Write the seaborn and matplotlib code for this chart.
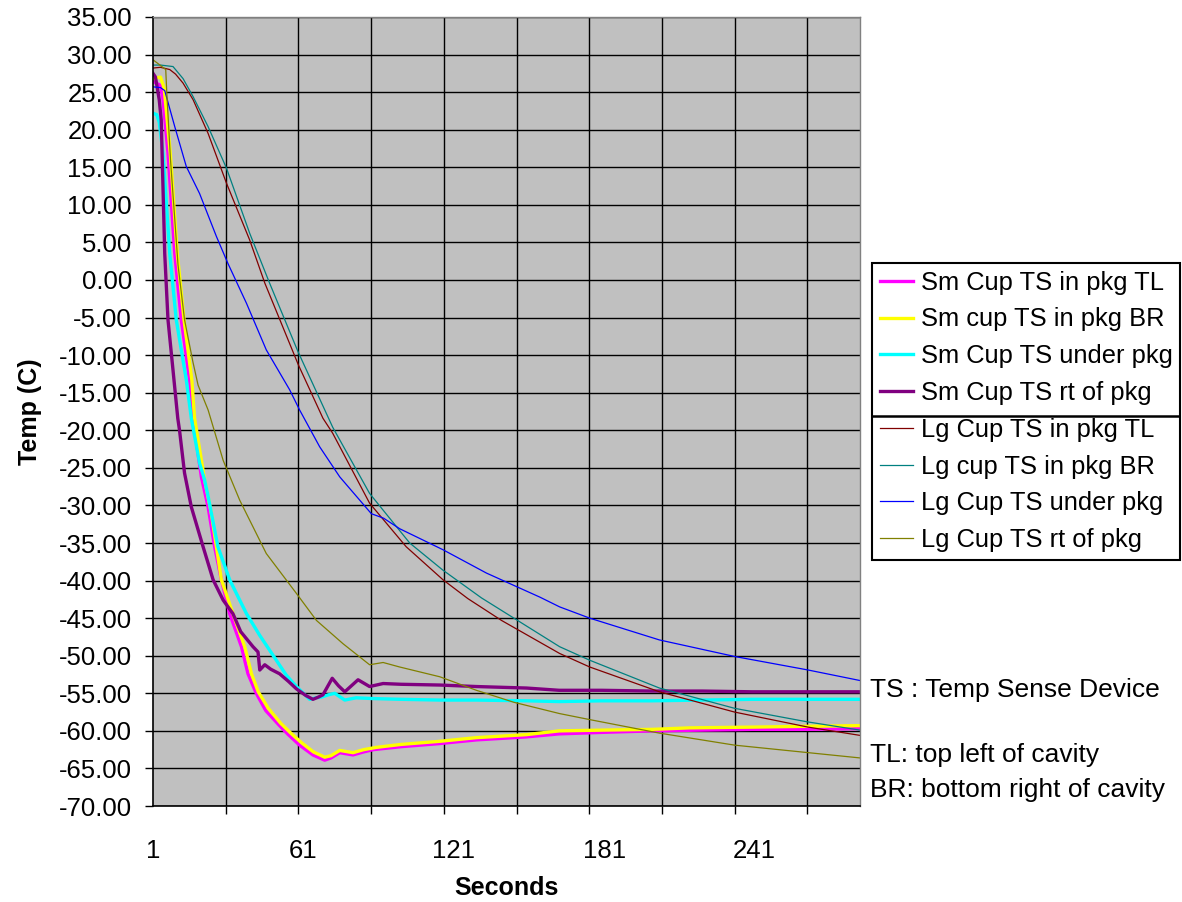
import matplotlib
matplotlib.use("Agg")
import matplotlib.pyplot as plt
from matplotlib.lines import Line2D
from matplotlib.ticker import FormatStrFormatter, FixedLocator
import seaborn as sns
import pandas as pd

# ---- data (seconds, temperature in C) ----
sm_tl_t = [1, 4, 5, 7, 9.7, 12.3, 15.6, 17, 20.3, 23, 25.6, 28.3, 31.6, 36.3, 38.9, 42.2, 46, 51.5, 55,
           59.5, 64.8, 69.5, 72, 75.5, 80.8, 85, 88.8, 100, 115, 130, 150, 163, 180, 200, 220, 240, 260, 283]
sm_tl_y = [26.4, 25.9, 24.0, 16.9, 3.5, -5.3, -13.3, -18.4, -26.2, -30.2, -35.5, -39.9, -44.4, -48.8, -52.4, -55.0,
           -57.3, -59.3, -60.5, -61.9, -63.2, -63.9, -63.6, -62.9, -63.2, -62.8, -62.5, -62.1, -61.7, -61.2,
           -60.8, -60.4, -60.2, -60.0, -59.9, -59.8, -59.8, -59.7]

sm_br_t = [1, 4, 5.5, 7.9, 10.7, 13.4, 16.5, 17.6, 21.6, 24.3, 26.3, 28.3, 32.9, 37.6, 40.3, 43, 47, 52, 56,
           60, 65, 69.5, 72, 75.5, 80.8, 85, 90, 100, 115, 130, 150, 163, 180, 200, 215, 240, 260, 283]
sm_br_y = [26.8, 27.0, 25.5, 16.9, 3.5, -5.3, -13.3, -18.4, -26.6, -31.1, -35.5, -39.9, -44.4, -48.8, -52.4,
           -54.8, -57.0, -59.0, -60.3, -61.5, -62.8, -63.5, -63.3, -62.6, -62.9, -62.5, -62.2, -61.8, -61.4,
           -60.9, -60.5, -60.0, -59.9, -59.8, -59.6, -59.5, -59.4, -59.3]

sm_under_t = [1, 2.5, 3.5, 5.0, 7.7, 10.3, 14.3, 16.3, 19.6, 21.6, 23, 26.9, 31.6, 35.6, 38.3, 43.6,
              50.2, 54.2, 58.2, 63.5, 66, 68.2, 71, 73.5, 77.5, 82, 88.8, 100, 115.4, 130, 150, 163, 180,
              200, 220, 240, 260, 283]
sm_under_y = [22.2, 22.0, 21.0, 16.9, 3.5, -5.3, -13.3, -18.4, -24.4, -26.6, -28.8, -35.5, -39.9, -42.6,
              -44.4, -47.3, -50.6, -52.6, -54.1, -55.8, -55.6, -55.5, -55.2, -55.0, -55.9, -55.6,
              -55.7, -55.8, -55.9, -55.9, -56.0, -56.1, -56.0, -56.0, -55.9, -55.8, -55.8, -55.8]

sm_rt_t = [1, 2, 3.5, 4.3, 5, 5.7, 7, 9, 10.9, 11.6, 13.6, 16.3, 21, 25, 29, 32.9, 36, 40.9, 42.9, 43.6,
           45.6, 48, 51.5, 55, 58.2, 62, 64.8, 67, 68.8, 72.5, 75, 77.5, 82.8, 87.4, 92.8, 100, 115.4, 130,
           150, 163, 180, 200, 220, 240, 260, 283]
sm_rt_y = [27.5, 27.0, 24.0, 21.3, 12.4, 3.5, -5.3, -12.0, -18.4, -20.0, -25.7, -30.2, -35.5, -39.9, -42.6,
           -44.4, -46.8, -48.8, -49.5, -51.9, -51.2, -51.8, -52.4, -53.4, -54.4, -55.3, -55.8, -55.5, -55.2,
           -53.0, -54.0, -54.8, -53.2, -54.1, -53.7, -53.8, -53.9, -54.1, -54.3, -54.6, -54.6, -54.7, -54.7,
           -54.8, -54.8, -54.8]

lg_tl_t = [1, 4, 7.7, 10, 13, 17, 23, 30.3, 39.6, 45.6, 59, 68.8, 72.7, 87.4, 102, 116.7, 126.6, 140,
           163.2, 175.2, 203, 233, 262.3, 283]
lg_tl_y = [28.2, 28.3, 28.0, 27.4, 26.2, 24.0, 19.5, 12.9, 5.3, -0.4, -11.3, -18.4, -20.4, -29.7, -35.5,
           -39.9, -42.4, -45.3, -49.7, -51.5, -54.8, -57.5, -59.5, -60.6]

lg_br_t = [1, 4, 9, 13, 17, 23, 30.3, 39.6, 47.5, 58.8, 72.7, 87.4, 103.4, 116.6, 132, 163.2, 175.2,
           203, 233, 262, 283]
lg_br_y = [28.6, 28.6, 28.4, 26.8, 24.4, 20.4, 14.9, 6.2, -0.4, -9.5, -19.6, -28.4, -35.0, -38.6, -42.3,
           -48.8, -50.6, -54.3, -57.0, -58.8, -59.9]

lg_under_t = [1, 4, 5.7, 9.7, 14.3, 19.6, 26.3, 30.9, 38.3, 46.2, 55.5, 59.5, 67.5, 75.5, 88.1, 93, 99.4,
              116.7, 134, 155.3, 163.2, 175.2, 203, 233, 262.3, 283]
lg_under_y = [25.7, 25.6, 25.2, 20.4, 15.1, 11.5, 5.8, 2.2, -3.1, -9.3, -14.6, -17.3, -22.2, -26.2, -31.1,
              -31.7, -33.1, -35.9, -39.0, -42.2, -43.5, -45.0, -47.9, -50.1, -51.9, -53.3]

lg_rt_t = [1, 3, 6.1, 6.5, 8, 11, 13.6, 17, 19, 23, 29, 35.6, 46.2, 58.2, 66.2, 76.8, 87.4, 92.8, 99.4,
           115.4, 130, 145, 163.2, 175.2, 203, 233, 283]
lg_rt_y = [29.3, 28.8, 28.0, 25.0, 16.0, 2.0, -5.3, -11.0, -14.0, -17.3, -24.0, -29.3, -36.4, -41.7, -45.3,
           -48.4, -51.2, -50.9, -51.5, -52.8, -54.6, -56.2, -57.7, -58.5, -60.3, -61.9, -63.6]

series_names = ["Sm Cup TS in pkg TL", "Sm cup TS in pkg BR", "Sm Cup TS under pkg", "Sm Cup TS rt of pkg",
                "Lg Cup TS in pkg TL", "Lg cup TS in pkg BR", "Lg Cup TS under pkg", "Lg Cup TS rt of pkg"]
series_t = [sm_tl_t, sm_br_t, sm_under_t, sm_rt_t, lg_tl_t, lg_br_t, lg_under_t, lg_rt_t]
series_y = [sm_tl_y, sm_br_y, sm_under_y, sm_rt_y, lg_tl_y, lg_br_y, lg_under_y, lg_rt_y]
series_colors = ["#FF00FF", "#FFFF00", "#00FFFF", "#800080", "#800000", "#008080", "#0000FF", "#808000"]
series_widths = [2.4, 2.4, 2.4, 2.4, 0.9, 0.9, 0.9, 0.9]

x_labels = [1, 61, 121, 181, 241]
grid_x = list(range(1, 283, 29))

plt.rcParams["font.family"] = ["Liberation Sans", "DejaVu Sans"]

fig = plt.figure(figsize=(11.82, 9.02), dpi=100)
ax = fig.add_axes([0.1294, 0.1064, 0.7276 - 0.1294, 0.9812 - 0.1064])
ax.set_facecolor("#C0C0C0")

# draw each series
for name, t, y, c, w in zip(series_names, series_t, series_y, series_colors, series_widths):
    df = pd.DataFrame({"Seconds": t, "Temp": y})
    sns.lineplot(data=df, x="Seconds", y="Temp", ax=ax, color=c, linewidth=w,
                 label=name, estimator=None, sort=False, legend=False)

# axes ranges and ticks
ax.set_xlim(1, 283)
ax.set_ylim(-70, 35)
ax.set_yticks(range(-70, 36, 5))
ax.yaxis.set_major_formatter(FormatStrFormatter("%.2f"))
ax.set_xticks(x_labels)
ax.xaxis.set_minor_locator(FixedLocator(grid_x))
ax.tick_params(axis="x", which="major", length=0, pad=24, labelsize=18.5)
ax.tick_params(axis="x", which="minor", length=6, width=1, direction="out", color="black")
ax.tick_params(axis="y", which="major", length=6, width=1, direction="out", pad=9, labelsize=18.5)

ax.grid(True, axis="y", which="major", color="black", linewidth=1.0)
ax.grid(True, axis="x", which="minor", color="black", linewidth=1.0)
ax.set_axisbelow(True)

for side in ["left", "bottom"]:
    ax.spines[side].set_color("black")
    ax.spines[side].set_linewidth(1.2)
for side in ["top", "right"]:
    ax.spines[side].set_color("#808080")
    ax.spines[side].set_linewidth(1.0)

ax.set_xlabel("Seconds", fontsize=18, fontweight="bold", labelpad=9)
ax.set_ylabel("Temp (C)", fontsize=18, fontweight="bold", labelpad=12)

# legend at the right side, split into two groups
handles, labels = ax.get_legend_handles_labels()
leg = fig.legend(handles, labels, loc="upper left", bbox_to_anchor=(0.7377, 0.7084),
                 fontsize=18.4, frameon=True, fancybox=False, edgecolor="black", framealpha=1,
                 handlelength=1.3, handletextpad=0.3, labelspacing=0.5, borderpad=0.3,
                 borderaxespad=0)
leg.get_frame().set_linewidth(1.5)
fig.add_artist(Line2D([0.7377, 0.997], [0.5388, 0.5388], color="black", linewidth=1.8,
                      transform=fig.transFigure, zorder=10))

# notes under the legend
fig.text(0.736, 1 - 690 / 902, "TS : Temp Sense Device", fontsize=19, va="center", ha="left")
fig.text(0.736, 1 - 755 / 902, "TL: top left of cavity", fontsize=19, va="center", ha="left")
fig.text(0.736, 1 - 790 / 902, "BR: bottom right of cavity", fontsize=19, va="center", ha="left")

plt.savefig("out.png", dpi=100)
plt.close()
